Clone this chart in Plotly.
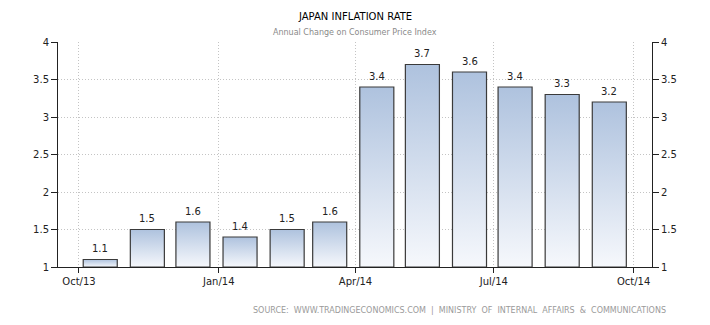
import pandas as pd
import plotly.graph_objects as go

# Japan CPI, annual change (%), monthly
months = ["2013-10", "2013-11", "2013-12", "2014-01", "2014-02", "2014-03",
          "2014-04", "2014-05", "2014-06", "2014-07", "2014-08", "2014-09"]
inflation = [1.1, 1.5, 1.6, 1.4, 1.5, 1.6, 3.4, 3.7, 3.6, 3.4, 3.3, 3.2]

tick_dates = ["2013-10-01", "2014-01-01", "2014-04-01", "2014-07-01", "2014-10-01"]
tick_labels = ["Oct/13", "Jan/14", "Apr/14", "Jul/14", "Oct/14"]

y_min, y_max = 1, 4
font = "DejaVu Sans"

centers = [pd.Timestamp(m + "-15") for m in months]
half_w = pd.Timedelta(days=11.2)

fig = go.Figure()

# Each bar is a closed polygon with its own vertical gradient fill
for c, v in zip(centers, inflation):
    xs = [c - half_w, c - half_w, c + half_w, c + half_w, c - half_w]
    ys = [y_min, v, v, y_min, y_min]
    fig.add_trace(go.Scatter(
        x=xs, y=ys, mode="lines", fill="toself",
        fillgradient=dict(type="vertical",
                          colorscale=[[0, "#f6f8fc"], [1, "#aec2de"]],
                          start=y_min, stop=v),
        line=dict(color="#3a3a3a", width=1.2),
        hoverinfo="skip", showlegend=False,
    ))

# Same series bound to the right-hand axis so that axis gets drawn
fig.add_trace(go.Scatter(
    x=centers, y=inflation, yaxis="y2", mode="markers",
    marker=dict(opacity=0), hoverinfo="skip", showlegend=False,
))

grid = dict(showgrid=True, gridcolor="#c4c4c4", griddash="1px,2px", gridwidth=1)

# Value labels above the bars
labels = [
    dict(text=f"{v:.1f}", x=c, y=v, xref="x", yref="y", showarrow=False,
         yshift=11, yanchor="middle",
         font=dict(family=font, size=10, color="#222222"))
    for c, v in zip(centers, inflation)
]

plot_h = 325 - 42 - 58
plot_w = 710 - 58 - 58


def px_x(x):
    return (x - 58) / plot_w


def px_y(y):
    return (325 - 58 - y) / plot_h


header = [
    dict(text="JAPAN INFLATION RATE", x=0.5, y=px_y(17), xref="paper", yref="paper",
         showarrow=False, yanchor="middle",
         font=dict(family=font, size=10, color="#000000")),
    dict(text="Annual Change on Consumer Price Index", x=0.5, y=px_y(33),
         xref="paper", yref="paper", showarrow=False, yanchor="middle",
         font=dict(family=font, size=8, color="#8a8a8a")),
    dict(text="SOURCE:  WWW.TRADINGECONOMICS.COM  |  MINISTRY  OF  INTERNAL  AFFAIRS  &  COMMUNICATIONS",
         x=px_x(668), y=px_y(310), xref="paper", yref="paper", showarrow=False,
         xanchor="right", yanchor="middle",
         font=dict(family=font, size=8, color="#9a9a9a")),
]

fig.update_layout(
    width=710, height=325, autosize=False,
    margin=dict(l=58, r=58, t=42, b=58),
    paper_bgcolor="white", plot_bgcolor="white",
    font=dict(family=font, size=10, color="#222222"),
    xaxis=dict(
        type="date",
        range=["2013-09-17 04:48", "2014-10-13 02:24"],
        tickvals=tick_dates, ticktext=tick_labels,
        ticks="outside", ticklen=5, tickcolor="#222222", tickwidth=1,
        showline=True, linecolor="#222222", linewidth=1,
        zeroline=False, **grid,
    ),
    yaxis=dict(
        range=[y_min, y_max], dtick=0.5,
        ticks="outside", ticklen=6, tickcolor="#222222", tickwidth=1,
        showline=True, linecolor="#222222", linewidth=1,
        zeroline=False, **grid,
    ),
    yaxis2=dict(
        range=[y_min, y_max], dtick=0.5, overlaying="y", side="right",
        ticks="outside", ticklen=6, tickcolor="#222222", tickwidth=1,
        showline=True, linecolor="#222222", linewidth=1,
        zeroline=False, showgrid=False,
    ),
    annotations=labels + header,
)

fig.write_html("out.html")
